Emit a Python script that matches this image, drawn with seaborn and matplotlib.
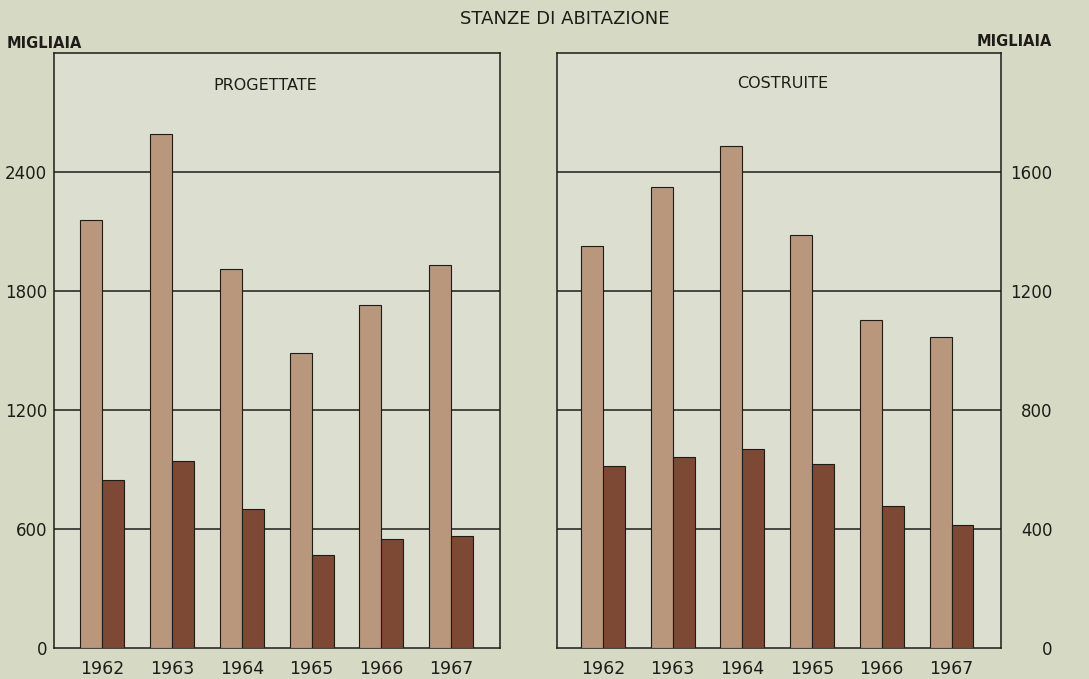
import matplotlib
matplotlib.use("Agg")
import matplotlib.pyplot as plt
import numpy as np
import pandas as pd
import seaborn as sns

# Rooms in dwellings (thousands): designed vs built, 1962-1967
anni = ["1962", "1963", "1964", "1965", "1966", "1967"]
serie = ["totale", "parte"]

progettate_totale = [2160, 2590, 1910, 1485, 1730, 1930]
progettate_parte = [846, 941, 700, 467, 548, 565]

costruite_totale = [1352, 1549, 1689, 1387, 1103, 1046]
costruite_parte = [613, 641, 670, 617, 477, 412]

tick_prog = [0, 600, 1200, 1800, 2400]
tick_costr = [0, 400, 800, 1200, 1600]

CHIARO = "#b8977d"
SCURO = "#7d4834"
SFONDO = "#d6dac4"
PANNELLO = "#dcdfcf"
INCHIOSTRO = "#1e1c18"


def tabella(totale, parte):
    return pd.DataFrame({
        "anno": anni * 2,
        "tipo": [serie[0]] * len(anni) + [serie[1]] * len(anni),
        "valore": list(totale) + list(parte),
    })


sns.set_theme(style="white")
plt.rcParams["font.family"] = ["DejaVu Sans"]

W, H = 1089, 679
fig = plt.figure(figsize=(W / 100, H / 100), dpi=100, facecolor=SFONDO)


def rect(x0, y0, x1, y1):
    return [x0 / W, 1 - y1 / H, (x1 - x0) / W, (y1 - y0) / H]


ax_l = fig.add_axes(rect(54, 53, 500, 648))
ax_r = fig.add_axes(rect(557, 53, 1001, 648))

pannelli = [
    (ax_l, tabella(progettate_totale, progettate_parte), tick_prog, 3000, (-0.69, 5.70)),
    (ax_r, tabella(costruite_totale, costruite_parte), tick_costr, 2000, (-0.66, 5.71)),
]

for ax, df, ticks, top, xlim in pannelli:
    ax.set_facecolor(PANNELLO)
    sns.barplot(data=df, x="anno", y="valore", hue="tipo", hue_order=serie,
                palette=[CHIARO, SCURO], width=0.63, gap=0, dodge=True,
                edgecolor=INCHIOSTRO, linewidth=0.8, saturation=1,
                legend=False, ax=ax, zorder=3)
    ax.set_ylim(0, top)
    ax.set_xlim(*xlim)
    ax.set_yticks(ticks)
    ax.set_yticklabels([str(t) for t in ticks])
    ax.set_xlabel("")
    ax.set_ylabel("")
    for t in ticks[1:]:
        ax.axhline(t, color=INCHIOSTRO, lw=1.1, zorder=1)
    for s in ax.spines.values():
        s.set_visible(True)
        s.set_color(INCHIOSTRO)
        s.set_linewidth(1.1)
    ax.tick_params(axis="x", length=0, pad=9, labelsize=12.5, colors=INCHIOSTRO)
    ax.tick_params(axis="y", length=0, labelsize=12, colors=INCHIOSTRO)

ax_l.tick_params(axis="y", pad=5)

ax_r.yaxis.tick_right()
ax_r.tick_params(axis="y", pad=37)
for lab in ax_r.get_yticklabels():
    lab.set_horizontalalignment("right")

fig.text(565 / W, 1 - 19 / H, "STANZE DI ABITAZIONE", ha="center", va="center",
         fontsize=13, color=INCHIOSTRO)
fig.text(7 / W, 1 - 44 / H, "MIGLIAIA", ha="left", va="center",
         fontsize=10.5, fontweight="bold", color=INCHIOSTRO)
fig.text(1052 / W, 1 - 42 / H, "MIGLIAIA", ha="right", va="center",
         fontsize=10.5, fontweight="bold", color=INCHIOSTRO)
fig.text(265 / W, 1 - 86 / H, "PROGETTATE", ha="center", va="center",
         fontsize=11.5, color=INCHIOSTRO)
fig.text(783 / W, 1 - 84 / H, "COSTRUITE", ha="center", va="center",
         fontsize=11.5, color=INCHIOSTRO)

fig.savefig("out.png", dpi=100, facecolor=SFONDO)
